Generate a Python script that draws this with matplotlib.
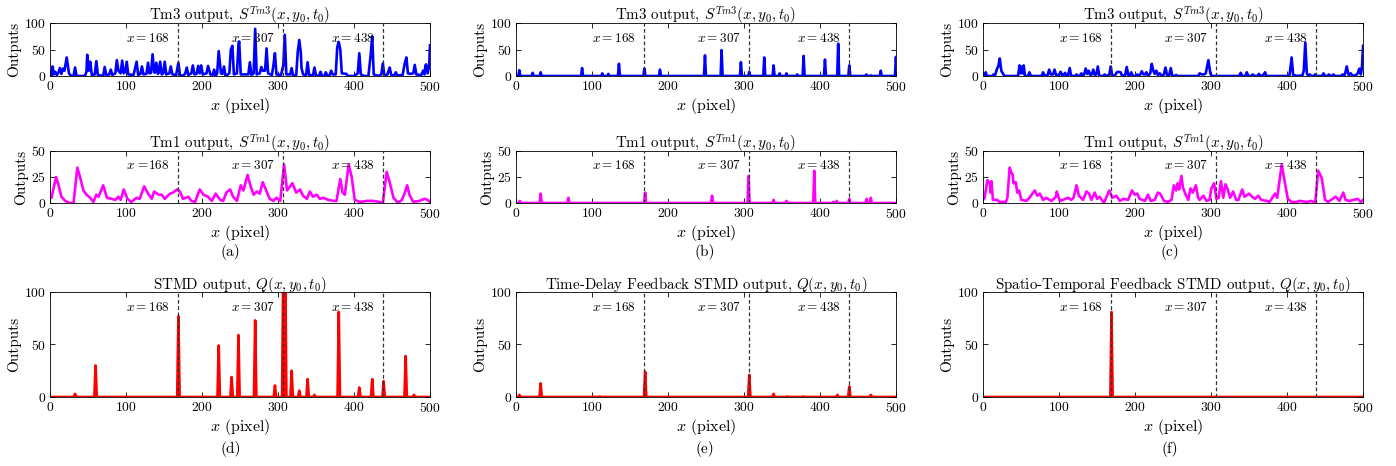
import numpy as np
import matplotlib
matplotlib.use('Agg')
import matplotlib.pyplot as plt

plt.rcParams['font.family'] = 'cmr10'
plt.rcParams['mathtext.fontset'] = 'cm'
plt.rcParams['axes.formatter.use_mathtext'] = True
plt.rcParams['axes.unicode_minus'] = False

# ---- data ----
marks = [168, 307, 438]

# (a) Tm3 : explicit points (x, output)
tm3_a = [(0, 2), (2, 0), (3.5, 18), (5, 3), (7, 8), (9, 2), (11, 6), (13, 15), (15, 4), (17, 14), (19, 10),
         (22, 35), (25, 5), (28, 0), (31, 0), (33, 16), (35, 0), (46, 0), (48, 8), (49, 40), (51, 10), (53, 27),
         (55, 2), (59, 3), (61, 28), (63, 2), (70, 0), (72, 17), (74, 2), (78, 3), (80, 12), (82, 2), (86, 5),
         (88, 30), (90, 10), (93, 5), (95, 29), (97, 5), (99, 8), (101, 27), (103, 3), (110, 2), (114, 27),
         (116, 2), (119, 4), (121, 18), (123, 3), (127, 4), (129, 25), (131, 5), (133, 6), (135, 41), (137, 10),
         (138, 6), (140, 25), (142, 4), (143, 6), (145, 27), (147, 3), (149, 5), (151, 27), (153, 3), (157, 5),
         (159, 18), (161, 3), (166, 2), (169, 25), (171, 2), (175, 0), (178, 5), (180, 16), (182, 2), (186, 5),
         (188, 20), (190, 3), (193, 4), (195, 19), (197, 5), (199, 20), (201, 3), (206, 5), (208, 19), (211, 3),
         (214, 2), (216, 12), (218, 0), (220, 5), (222, 47), (225, 5), (227, 4), (229, 18), (231, 0), (236, 5),
         (238, 50), (240, 57), (242, 3), (246, 5), (248, 60), (249, 65), (251, 3), (261, 3), (263, 26), (265, 2),
         (268, 5), (270, 89), (272, 3), (276, 5), (278, 17), (280, 10), (283, 10), (285, 52), (287, 5), (292, 2),
         (294, 20), (296, 43), (298, 3), (304, 2), (307, 20), (309, 78), (311, 3), (316, 3), (318, 15), (320, 0),
         (324, 2), (326, 45), (328, 68), (330, 45), (331, 15), (333, 3), (337, 2), (339, 26), (341, 2), (346, 1),
         (348, 16), (350, 1), (354, 0), (356, 8), (358, 0), (361, 0), (363, 7), (365, 0), (368, 2), (370, 10),
         (372, 3), (376, 3), (378, 55), (380, 64), (382, 50), (384, 5), (390, 4), (392, 0), (400, 0), (405, 5),
         (407, 43), (409, 3), (413, 0), (419, 0), (422, 40), (424, 75), (426, 3), (432, 0), (436, 3), (438, 24),
         (440, 0), (444, 3), (447, 16), (449, 2), (453, 1), (455, 7), (457, 1), (464, 2), (467, 25), (469, 35),
         (471, 5), (474, 4), (478, 5), (480, 21), (482, 3), (486, 2), (488, 0), (491, 10), (493, 3), (494, 20),
         (495, 22), (497, 5), (499, 20), (500, 58)]

# (a) Tm1
tm1_a = [(0, 5), (2, 5), (8, 25), (11, 18), (15, 6), (20, 2), (26, 0), (31, 0), (36, 34), (39.5, 25), (44, 12),
         (48, 8), (53, 5), (57, 1), (61, 8), (64, 6), (70, 17), (75, 5), (81, 4), (86, 3), (90, 6), (93, 3),
         (97, 13), (102, 4), (107, 1), (114, 5), (118, 4), (124, 16), (129, 9), (134, 4), (137, 11), (143, 8),
         (147, 8), (151, 4), (158, 9), (162, 10), (167, 13), (171, 11), (175, 4), (182, 6), (186, 2), (191, 1),
         (197, 13), (202, 8), (208, 6), (213, 2), (218, 9), (224, 3), (228, 2), (232, 10), (237, 13), (241, 6),
         (246, 2), (251, 17), (254.5, 12), (260, 27), (264, 16), (268, 8), (272, 11), (276, 9), (280, 20),
         (284, 13), (289, 4), (294, 2), (298, 5), (303, 2), (308, 37), (312, 12), (315, 15), (319, 19), (324, 10),
         (329, 13), (333, 7), (338, 4), (342, 11), (346, 6), (351, 8), (355, 4), (360, 5), (366, 3), (373, 2),
         (377, 2), (382, 23), (385, 10), (388, 8), (393, 37), (397, 25), (401, 3), (408, 1), (417, 2), (425, 2),
         (434, 1), (438, 0), (443, 30), (447, 20), (452, 5), (458, 0), (463, 3), (466, 8), (470, 17), (473, 8),
         (478, 1), (486, 2), (493, 4), (497, 3), (500, 1)]

# (c) Tm3
tm3_c = [(0, 0), (2, 0), (3.5, 7), (5, 0), (12, 0), (14, 3), (16, 2), (18.4, 14), (20, 18), (22, 33), (24, 10),
         (26, 5), (28, 0), (46, 0), (48, 20), (49.5, 5), (51, 18), (52, 5), (53.5, 20), (55, 0), (59, 0), (61, 7),
         (63, 0), (77, 0), (79, 7), (81, 0), (85, 2), (87, 12), (89, 3), (92, 3), (94, 12), (96, 2), (100, 2),
         (102, 8), (104, 2), (106, 2), (108, 6), (110, 0), (112, 2), (114, 15), (116, 0), (121, 0), (123, 3),
         (125, 0), (127, 0), (129.4, 5), (131, 0), (133, 3), (135, 14), (137, 4), (139, 10), (141, 2), (143, 3),
         (145, 12), (147, 2), (149, 3), (151, 18), (153, 0), (158, 0), (160, 3), (162, 0), (166, 2), (168, 18),
         (170, 0), (174, 2), (176, 7), (178, 8), (181, 7), (183, 0), (187, 2), (189, 17), (191, 2), (193, 2),
         (195, 7), (197, 0), (201, 0), (203, 3), (205, 0), (207, 3), (208.8, 9), (211, 3), (213, 3), (215, 7),
         (217, 0), (220, 5), (222, 23), (224, 10), (226, 4), (228, 10), (230, 2), (232.5, 5), (235, 0), (238, 3),
         (240, 16), (242, 2), (245, 2), (247, 15), (249, 0), (252, 0), (254, 2), (256, 0), (283, 0), (285, 5),
         (288, 3), (291, 3), (293, 5), (296.5, 30), (299, 5), (301, 0), (337, 0), (339, 6), (341, 0), (345, 0),
         (347, 7), (349, 0), (353, 0), (355, 3), (357, 0), (361, 0), (363, 4), (365, 0), (369, 2), (371, 7),
         (373, 0), (403, 0), (404, 10), (406, 35), (408, 2), (414, 0), (417, 1), (420, 0), (422, 10), (424, 63),
         (426, 5), (428, 0), (430, 3), (432, 0), (435, 0), (437, 3), (439, 0), (446, 0), (448, 5), (450, 0),
         (453, 0), (455, 3), (457, 0), (459, 0), (461, 3), (463, 0), (471, 0), (473, 3), (475, 0), (476.5, 5),
         (478.5, 18), (481, 2), (484, 5), (486, 0), (491, 2), (493, 5), (494.5, 12), (495.6, 14), (497, 3),
         (498.5, 15), (500, 57)]

# (c) Tm1
tm1_c = [(0, 3), (2, 5), (5.7, 22), (7.5, 20), (9, 18), (10, 10), (11, 21), (13, 3), (18.4, 3), (22, 1), (30, 1),
         (32, 5), (35, 34), (37, 30), (39, 27), (40, 19), (41, 19), (43, 20), (45, 10), (47.4, 12), (50.4, 3),
         (57, 2), (61, 5), (63, 7), (68, 12), (71.5, 7), (74.6, 9), (79, 3), (83, 5), (90, 2), (96, 6), (97, 11),
         (101, 2), (105, 3), (112, 5), (116, 3), (119, 5), (123, 17), (126, 7), (131.6, 3), (136, 11),
         (139.5, 9), (142.5, 3), (147, 10), (150, 4), (153.5, 6), (159, 0), (166, 12), (170, 5), (175.4, 7),
         (180, 2), (185, 4), (190.8, 3), (196, 12), (199.6, 8), (203, 9), (206, 4), (213, 2), (217, 8),
         (220.6, 2), (226, 3), (230, 10), (233, 9), (238, 2), (243, 1), (248, 3), (251, 17), (254, 12), (256, 19),
         (258, 13), (261, 26), (263, 15), (266, 9), (270, 3), (273, 14), (276, 10), (280, 17), (283, 5), (285, 3),
         (290, 7), (294, 2), (298, 3), (300.4, 14), (304, 19), (307, 4), (310, 5), (313, 21), (316, 5), (319, 18),
         (322, 13), (325, 5), (329, 11), (333, 3), (336, 3), (341, 13), (344, 6), (350, 9), (354, 6), (358, 4),
         (362, 7), (366, 3), (373, 2), (377, 1), (384, 9), (387, 5), (393, 37), (397, 20), (401, 4), (406, 1),
         (412, 1), (417, 2), (426, 1), (432, 2), (437, 0), (441, 31), (445.6, 24), (450, 3), (454, 1), (460, 4),
         (464, 6), (469, 2), (474, 10), (477, 3), (482, 2), (488, 3), (493, 4), (497, 1), (500, 3)]

# sparse responses: peak positions and peak heights
tm3_b_x = [4.4, 22, 32.5, 87, 113.6, 121.5, 135.5, 169, 189.5, 248.7, 270.6, 296, 307, 326.7, 339, 347, 356,
           370, 378.5, 406.6, 424, 438.6, 461, 467, 480, 500]
tm3_b_y = [11, 6, 7, 15, 5, 4, 23, 14, 12, 39, 49, 26, 8, 35, 20, 5, 5, 3, 38, 31, 61, 20, 3, 1, 10, 36]

tm1_b_x = [5, 32.5, 69, 170, 258, 306, 339, 356, 392.5, 417.5, 422, 438.6, 461.4, 467]
tm1_b_y = [2, 9, 5, 10, 7, 26, 3, 2, 31, 1, 2, 4, 4, 5]

stmd_d_x = [33, 60, 169, 222, 239, 248, 270, 296, 307, 309.5, 318, 328, 339, 348, 380, 407, 424, 439, 468, 479]
stmd_d_y = [3, 30, 77, 49, 19, 59, 73, 11, 130, 130, 25, 6, 17, 2, 81, 9, 17, 15, 39, 2]

tdf_e_x = [4.4, 32.5, 110.5, 170, 307, 339, 357, 378, 423, 438.6, 467]
tdf_e_y = [2, 13, 0.5, 24, 21, 3, 0.5, 0.5, 2, 10, 2]

stf_f_x = [169]
stf_f_y = [81]

titles_top = r'Tm3 output, $S^{Tm3}(x, y_0, t_0)$'
titles_mid = r'Tm1 output, $S^{Tm1}(x, y_0, t_0)$'
titles_bot = [r'STMD output, $Q(x, y_0, t_0)$',
              r'Time-Delay Feedback STMD output, $Q(x, y_0, t_0)$',
              r'Spatio-Temporal Feedback STMD output, $Q(x, y_0, t_0)$']
captions = ['(a)', '(b)', '(c)', '(d)', '(e)', '(f)']


def spikes(px, py, half=1.6):
    # each peak drawn as a narrow spike on a zero baseline
    xs, ys = [0], [0]
    for a, b in zip(px, py):
        xs += [a - half, a, a + half]
        ys += [0, b, 0]
    xs.append(500)
    ys.append(0)
    return xs, ys


fig = plt.figure(figsize=(13.96, 4.66), dpi=100)

lefts = [0.0358, 0.3696, 0.7042]
w = 0.2722
rows = [(0.8369, 0.1137), (0.5644, 0.1116), (0.1481, 0.2253)]


def style(ax, ymax, yt, title):
    ax.set_xlim(0, 500)
    ax.set_ylim(0, ymax)
    ax.set_xticks([0, 100, 200, 300, 400, 500])
    ax.set_yticks(yt)
    ax.tick_params(direction='in', top=True, right=True, labelsize=9.8, length=3.5, width=0.6, pad=3)
    for s in ax.spines.values():
        s.set_linewidth(0.6)
    ax.set_title(title, fontsize=10.8, pad=2)
    ax.set_xlabel(r'$x$ (pixel)', fontsize=11.5, labelpad=1.5)
    ax.set_ylabel('Outputs', fontsize=11, labelpad=2)
    for m in marks:
        ax.axvline(m, color='#333333', ls=(0, (3, 2)), lw=0.9, zorder=3)


series = [
    [tm3_a, tm1_a, spikes(stmd_d_x, stmd_d_y)],
    [spikes(tm3_b_x, tm3_b_y, 1.3), spikes(tm1_b_x, tm1_b_y, 1.3), spikes(tdf_e_x, tdf_e_y, 1.5)],
    [tm3_c, tm1_c, spikes(stf_f_x, stf_f_y, 1.5)],
]
ann_texts = [['$x = 168$', '$x = 307$', '$x = 438$'],
             ['$x$ =168', '$x = 307$', '$x = 438$']]

for c in range(3):
    for r in range(3):
        b, h = rows[r]
        ax = fig.add_axes([lefts[c], b, w, h])
        data = series[c][r]
        if isinstance(data, list):
            xs = [p[0] for p in data]
            ys = [p[1] for p in data]
        else:
            xs, ys = data
        color = ['blue', 'magenta', 'red'][r]
        ax.plot(xs, ys, color=color, lw=1.9, zorder=2)
        if r == 0:
            style(ax, 100, [0, 50, 100], titles_top)
            ay = 70
        elif r == 1:
            style(ax, 50, [0, 25, 50], titles_mid)
            ay = 36
        else:
            style(ax, 100, [0, 50, 100], titles_bot[c])
            ay = 85
        labels = ann_texts[1] if (c == 0 and r == 1) else ann_texts[0]
        for m, t in zip(marks, labels):
            ax.annotate(t, xy=(m, ay), xytext=(-6, 0), textcoords='offset points',
                        ha='right', va='center', fontsize=9.5, zorder=4)

cap_pos = [(0.165, 0.459), (0.505, 0.459), (0.838, 0.459), (0.165, 0.036), (0.505, 0.036), (0.838, 0.036)]
for (cx, cy), t in zip(cap_pos, captions):
    fig.text(cx, cy, t, ha='center', va='center', fontsize=11)

fig.savefig('out.png', dpi=100)
